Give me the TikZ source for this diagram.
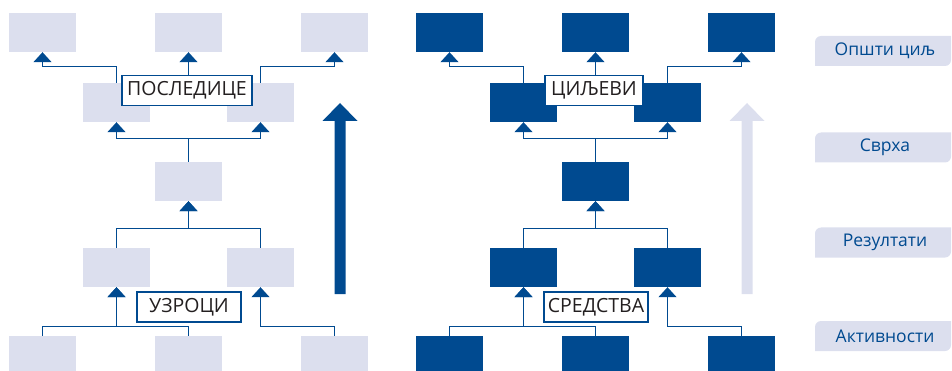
\documentclass[tikz,border=0pt]{standalone}
\usepackage{fontspec}
\setmainfont{Open Sans}
\usetikzlibrary{arrows.meta}
\definecolor{dblue}{RGB}{0,74,144}
\definecolor{lgray}{RGB}{220,223,238}
\definecolor{txt}{RGB}{35,31,32}
\newcommand\drawtree[7]{%
\begin{scope}[xshift=#1pt]
\node[#2] (#3t1) at (42.5,32.5) {};
\node[#2] (#3t2) at (188.5,32.5) {};
\node[#2] (#3t3) at (334.5,32.5) {};
\node[#2] (#3m1) at (116.5,102.5) {};
\node[#2] (#3m2) at (260.5,102.5) {};
\node[#2] (#3c) at (188.5,181.5) {};
\node[#2] (#3r1) at (116.5,267.5) {};
\node[#2] (#3r2) at (260.5,267.5) {};
\node[#2] (#3b1) at (42.5,355.5) {};
\node[#2] (#3b2) at (188.5,355.5) {};
\node[#2] (#3b3) at (334.5,355.5) {};
\node[tag, minimum width=#6] (#3up) at (187,90.5) {#4};
\node[tag, minimum width=#7] (#3dn) at (189,307) {#5};
\end{scope}
\draw[arr] (#3m1.north) -- ++(0,-16) -| (#3t1.south);
\draw[arr] (#3m2.north) -- ++(0,-16) -| (#3t3.south);
\draw[arr] (#3up.north -| #3t2.south) -- (#3t2.south);
\draw[arr] (#3c.north) -- ++(0,-23) -| (#3m1.south);
\draw[arr] (#3c.north) -- ++(0,-23) -| (#3m2.south);
\draw[arr] (#3r1.north) -- ++(0,-19) -| (#3c.south);
\draw[arr] (#3r2.north) -- ++(0,-19) -| (#3c.south);
\draw[arr] (#3b1.north) -- ++(0,-9) -| (#3r1.south);
\draw[arr] (#3b2.north) -- ++(0,-9) -| (#3r1.south);
\draw[arr] (#3b3.north) -- ++(0,-9) -| (#3r2.south);
}
\newcommand\sidelab[3]{%
\fill[lgray] (815,#2+15) -- (815,#2-9) arc[start angle=180,end angle=90,radius=6pt]
  -- (951,#2-15) -- (951,#2+9) arc[start angle=0,end angle=-90,radius=6pt] -- cycle;
\node[side] (#1) at (885,#2) {#3};
}
\begin{document}
\begin{tikzpicture}[x=1pt,y=-1pt,
  lbox/.style={fill=lgray, minimum width=67pt, minimum height=39pt, inner sep=0pt},
  dbox/.style={fill=dblue, minimum width=67pt, minimum height=39pt, inner sep=0pt},
  conn/.style={draw=dblue, line width=1.3pt},
  arr/.style={conn, -{Triangle[length=10pt,width=18pt]}},
  tag/.style={draw=dblue, line width=1.8pt, fill=white, text=txt, font=\fontsize{19.5}{19.5}\selectfont, minimum height=30pt, inner ysep=0pt, inner xsep=3pt},
  side/.style={text=dblue, font=\fontsize{17.5}{17.5}\selectfont, inner sep=0pt}
]
\useasboundingbox (0,0) rectangle (952,371);
\drawtree{0}{lbox}{L}{ПОСЛЕДИЦЕ}{УЗРОЦИ}{130pt}{104pt}
\drawtree{407}{dbox}{R}{ЦИЉЕВИ}{СРЕДСТВА}{98pt}{104pt}
% big arrows
\fill[dblue] (334.5,294) -- (334.5,121) -- (322.5,121) -- (340,103) -- (357.5,121) -- (345.5,121) -- (345.5,294) -- cycle;
\fill[lgray] (741.5,294) -- (741.5,121) -- (729.5,121) -- (747,103) -- (764.5,121) -- (752.5,121) -- (752.5,294) -- cycle;
\sidelab{s1}{51}{Општи циљ}
\sidelab{s2}{147.5}{Сврха}
\sidelab{s3}{242.5}{Резултати}
\sidelab{s4}{336}{Активности}
\end{tikzpicture}
\end{document}
